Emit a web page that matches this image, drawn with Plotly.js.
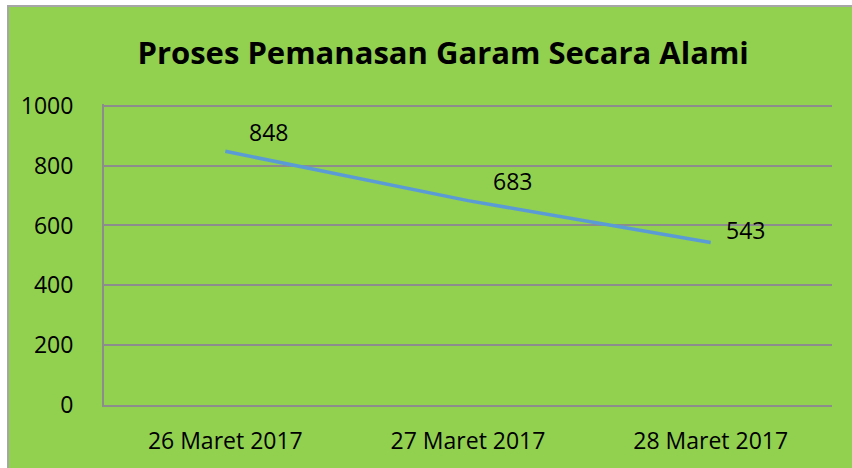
<!DOCTYPE html>
<html>
<head>
<meta charset="utf-8">
<script src="https://cdn.plot.ly/plotly-3.0.1.min.js"></script>
<style>
html, body { margin: 0; padding: 0; background: #ffffff; width: 852px; height: 468px; overflow: hidden; }
#chart { position: absolute; left: 7px; top: 5px; width: 845px; height: 463px; border-left: 2px solid #a6a6a6; border-top: 2px solid #a6a6a6; background: #92D050; }
</style>
</head>
<body>
<div id="chart"></div>
<script>
const categories = ["26 Maret 2017", "27 Maret 2017", "28 Maret 2017"];
const values = [848, 683, 543];
const yTicks = [0, 200, 400, 600, 800, 1000];
const labelShiftX = [43, 44, 35];
const labelShiftY = [19, 20, 13];

const FONT = "Open Sans, sans-serif";

const trace = {
  x: categories,
  y: values,
  type: "scatter",
  mode: "lines",
  line: { color: "#5B9BD5", width: 3.5 },
  hoverinfo: "skip"
};

const annotations = categories.map((c, i) => ({
  x: c, y: values[i], xref: "x", yref: "y",
  text: String(values[i]), showarrow: false,
  xshift: labelShiftX[i], yshift: labelShiftY[i],
  font: { family: FONT, size: 23, color: "#000000" }
}));

const layout = {
  width: 843, height: 461,
  paper_bgcolor: "#92D050",
  plot_bgcolor: "#92D050",
  margin: { l: 95, r: 20, t: 97, b: 63 },
  title: {
    text: "<b>Proses Pemanasan Garam Secara Alami</b>",
    font: { family: FONT, size: 31, color: "#000000" },
    x: 0.515, xanchor: "center", y: 0.9, yanchor: "middle"
  },
  showlegend: false,
  xaxis: {
    type: "category",
    range: [-0.5, 2.5],
    showgrid: false,
    showline: true, linecolor: "#8c8c8c", linewidth: 2,
    ticks: "", ticklabelstandoff: 14,
    tickfont: { family: FONT, size: 23, color: "#000000" },
    zeroline: false
  },
  yaxis: {
    range: [0, 1006],
    tickvals: yTicks,
    ticktext: yTicks.map(String),
    showgrid: true, gridcolor: "#8c8c8c", gridwidth: 2,
    showline: true, linecolor: "#8c8c8c", linewidth: 2,
    zeroline: false,
    ticks: "", ticklabelstandoff: 24,
    tickfont: { family: FONT, size: 23, color: "#000000" }
  },
  annotations: annotations
};

Plotly.newPlot("chart", [trace], layout, { displayModeBar: false, staticPlot: true });
</script>
</body>
</html>
